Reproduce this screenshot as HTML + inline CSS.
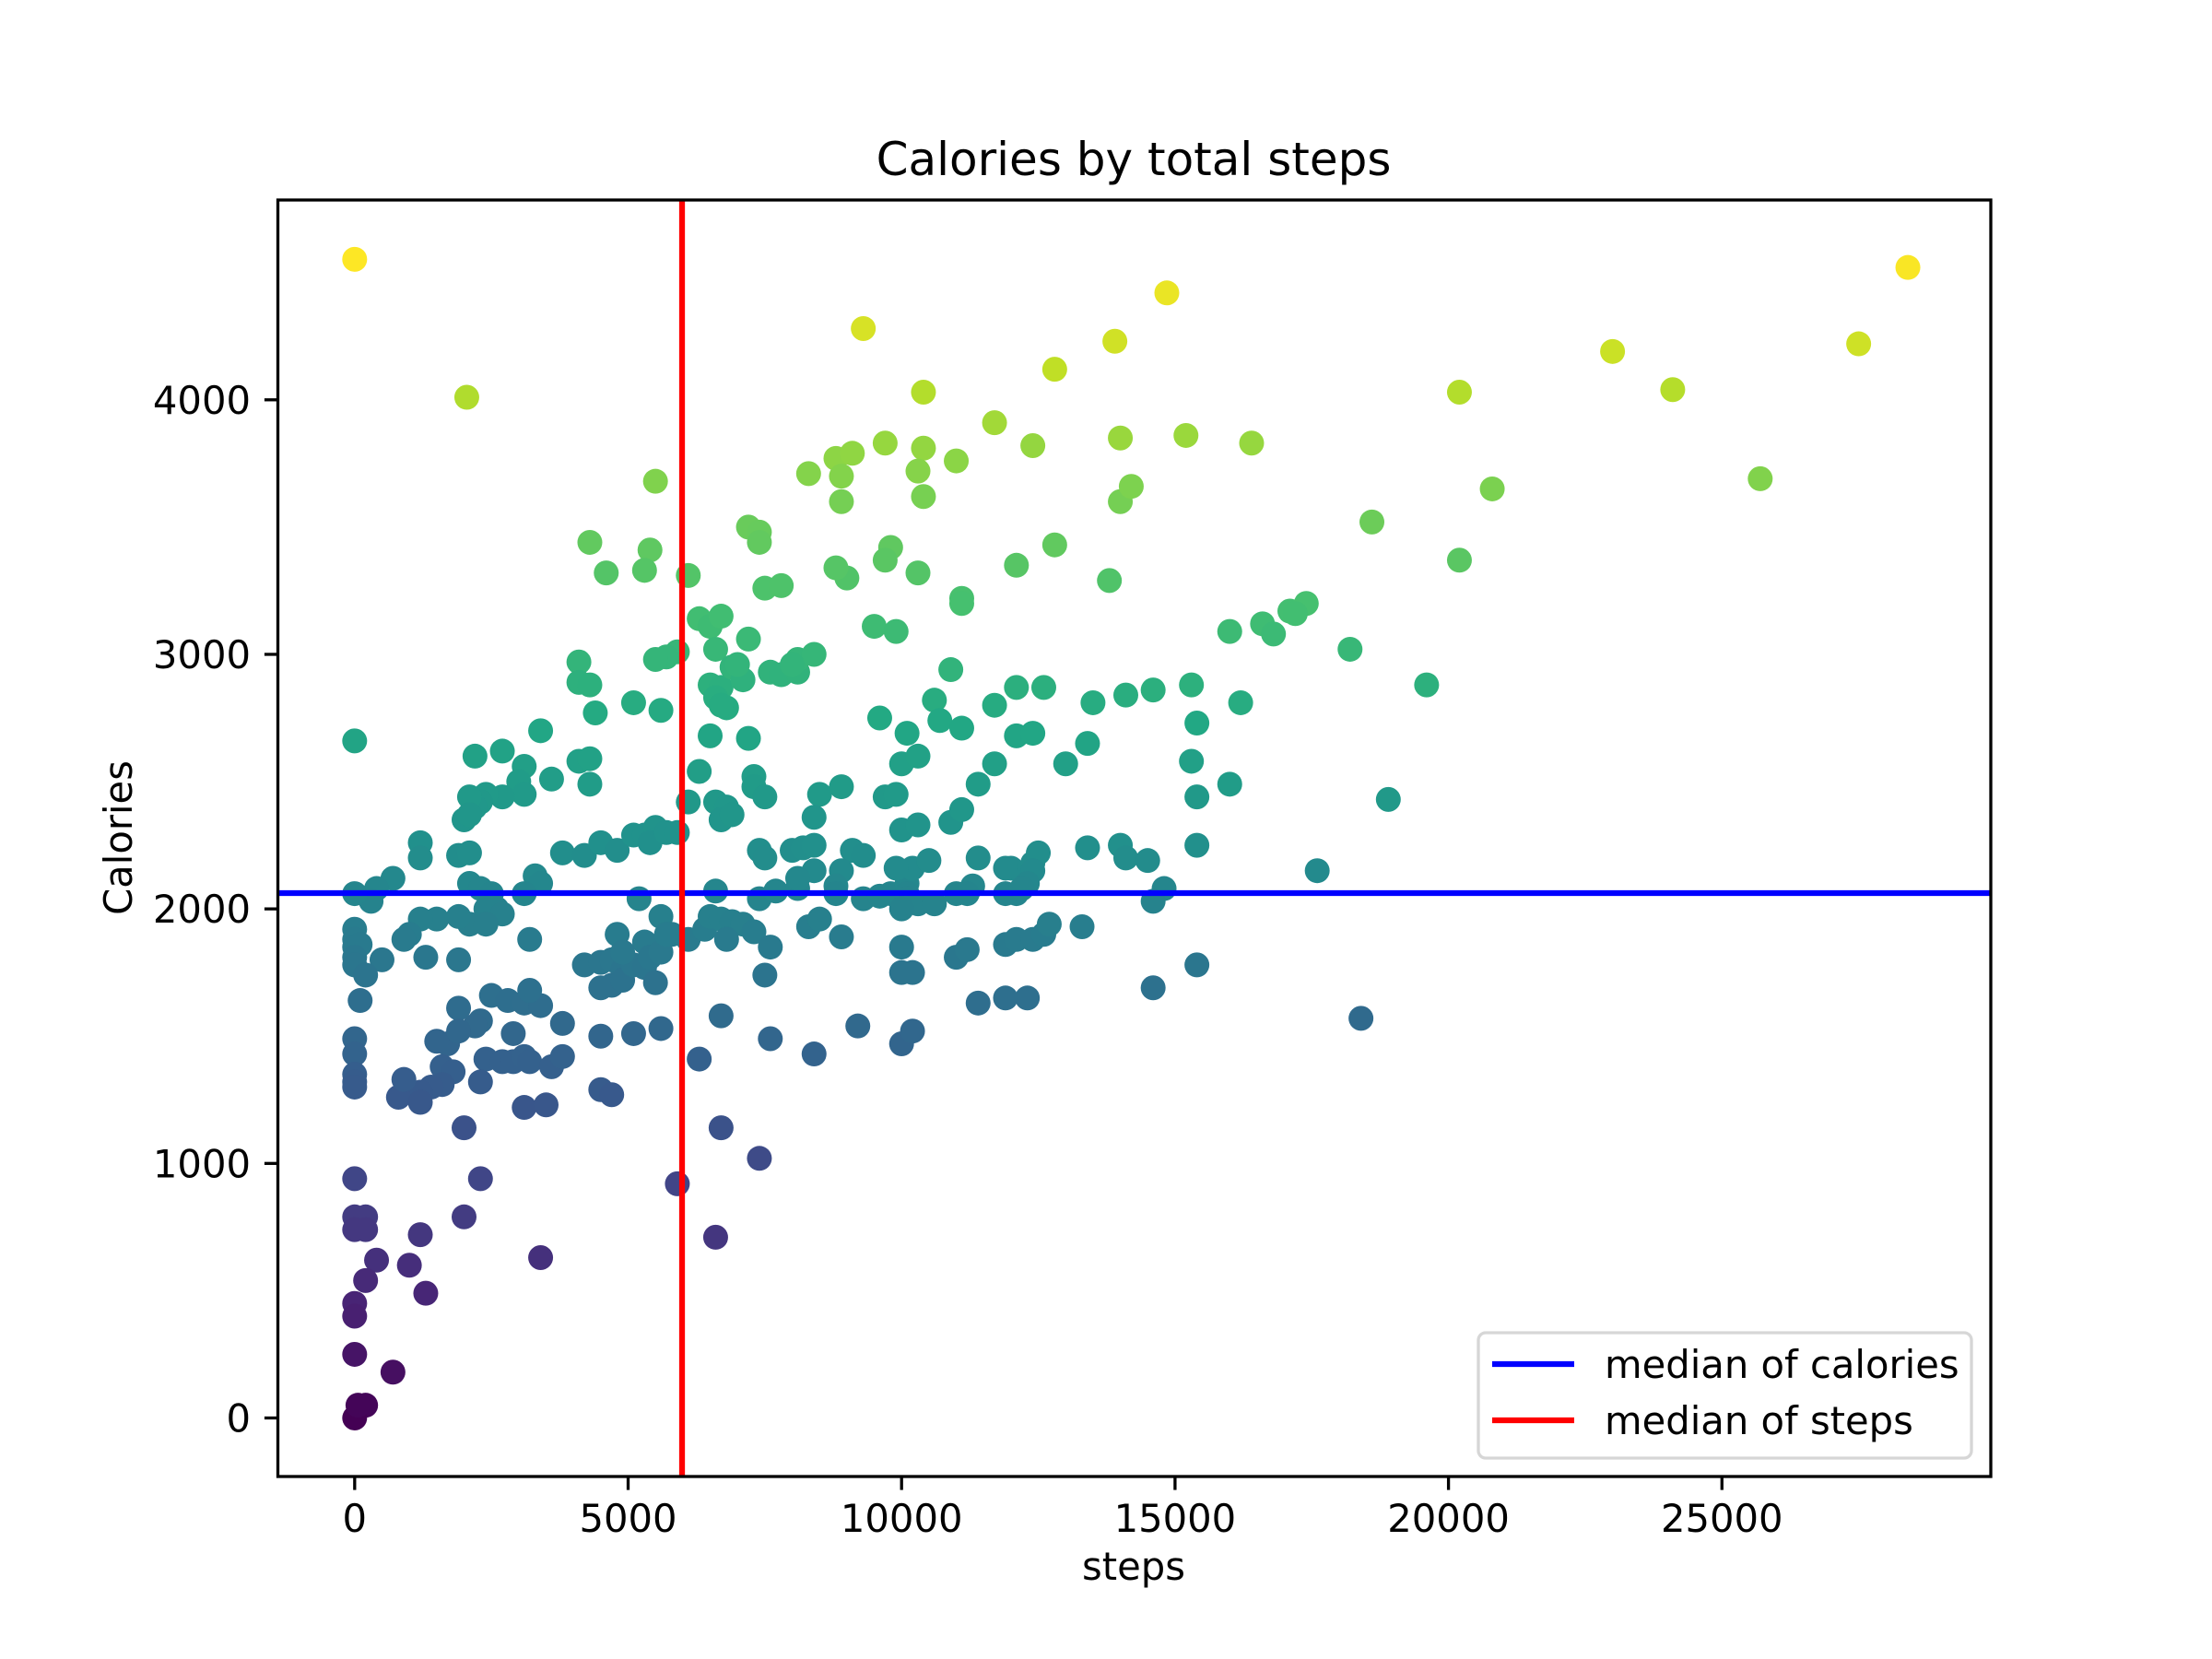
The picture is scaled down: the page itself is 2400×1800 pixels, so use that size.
<!DOCTYPE html>
<html><head><meta charset="utf-8"><style>
html,body{margin:0;padding:0;background:#fff;}
svg{display:block;font-family:"DejaVu Sans","Liberation Sans",sans-serif;}
</style></head><body>
<svg id="chart" width="2400" height="1800" viewBox="0 0 2400 1800" xmlns="http://www.w3.org/2000/svg">
<rect width="2400" height="1800" fill="#fff"/>
<text x="1230" y="190" font-size="50" text-anchor="middle">Calories by total steps</text>
<g id="plot"></g>
<g id="axes"></g>
</svg>
<script>
const steps = [0,2050,9300,14850,13900,12800,10400,11700,8800,9100,9700,10400,12400,11000,10300,8300,8900,8900,10400,14000,15200,16400,14000,14200,20200,23000,24100,27500,28400,25700,20800,18600,20200,5500,4300,5400,4600,5300,6100,7200,7400,7400,9000,9800,9700,8800,10300,12800,12100,11100,11100,13800,7500,7800,9500,9900,6300,6500,6700,7200,6600,5900,5700,5500,4100,4100,4300,4400,5100,5600,6500,6700,6600,6800,6700,6900,7100,7000,7600,7800,8100,8100,8400,10900,10600,10700,11100,11700,12100,12600,12100,12400,13500,14100,14600,15300,15400,16200,16000,16600,16800,17100,17400,18200,19600,17200,
0,2200,2700,3400,4100,4300,4300,3600,3100,3000,3100,2700,2400,2300,2200,2100,2000,2100,1900,2100,1200,1200,700,400,300,0,2100,2300,2500,2400,2600,2700,2100,2400,1900,1500,1200,1000,900,1300,1900,500,0,0,0,100,0,0,200,100,3300,3400,3100,3800,4200,4500,4800,5100,5300,5500,5400,5700,5900,6300,6600,6800,6700,6900,6100,6500,7200,7300,7300,7500,7400,7500,8000,8200,8400,8500,8400,8900,9100,9300,8900,8400,7400,7700,8100,8100,8800,8800,9300,9600,9800,10100,10100,10100,10300,10000,10600,10200,9900,10100,10000,10300,10500,9700,9900,10000,10300,10900,11100,11400,11700,9600,11400,12000,12400,12500,12400,12300,12100,11900,11300,11200,11000,11900,12200,14000,14100,14500,13400,13000,13400,14800,14600,15400,15300,15400,16000,17600,18900,8000,
5200,4800,5300,5600,5800,6100,6400,6600,6500,6700,6900,7100,7300,6800,7600,8300,8500,8900,10000,10000,10200,11000,11200,11400,11900,12300,11900,12100,12400,12600,12700,13300,14600,15400,18400,4200,4500,4700,4900,4700,4500,4900,5100,5300,5400,5500,5600,5700,4900,3200,2500,2800,3100,3400,3200,3800,2900,2300,1900,2200,1700,1500,1900,2400,2700,2900,3100,3200,3600,3800,5100,5600,4500,6700,6300,7600,7500,8400,9200,10000,10200,1600,1800,1600,1400,1200,800,900,1200,2300,3100,3500,4500,4700,0,0,0,0,0,2000,6700,7400,2300,0,5900,0,200,0,200,2000,1200,6600,400,1000,3400,200,1300,0,0,0,700,200,0,60];
const calories = [4552,4010,4280,4420,4230,4120,4030,3910,3770,3790,3830,3810,3820,3760,3720,3710,3700,3600,3620,3850,3860,3830,3600,3660,4030,4190,4040,4220,4520,3690,3650,3520,3370,3680,3440,3410,3320,3330,3310,3500,3480,3440,3300,3420,3370,3340,3320,3430,3350,3220,3200,3290,3260,3270,3110,3090,3140,3110,3150,3060,3020,3010,2990,2980,2970,2890,2880,2770,2810,2780,2880,2870,2830,2790,2800,2950,2900,2960,2930,2920,2930,2980,3000,2940,2820,2740,2710,2800,2870,2870,2680,2690,2810,2840,2860,2880,2730,2810,3090,3120,3080,3170,3200,3020,2880,3160,
2660,2600,2620,2700,2580,2590,2490,2510,2560,2500,2450,2440,2450,2420,2400,2440,2350,2370,2210,2220,2260,2200,2120,2080,2030,2060,2100,2080,2060,2000,2000,1980,1940,1940,1970,1960,1960,1900,1880,1810,1800,1800,1920,1880,1850,1860,1810,1780,1740,1640,2130,2100,2060,2220,2210,2260,2230,2290,2290,2320,2260,2300,2300,2540,2420,2400,2350,2370,2420,2680,2670,2520,2480,2440,2230,2200,2230,2240,2250,2450,2360,2480,2230,2210,2150,2150,2040,2070,2080,2120,2090,2060,2040,2050,2060,2100,2060,2040,2020,2000,2020,2160,2160,2690,2570,2600,2190,2440,2450,2310,2330,2340,2390,2490,2570,2750,2200,2160,2180,2220,2150,2100,2060,2060,2090,2060,2060,2160,2080,2250,2200,2190,2240,2570,2650,2080,2030,2440,2580,2250,2490,2150,2430,2960,
2040,1900,1870,1970,1900,1880,1920,2070,1970,1960,1950,1940,1910,1880,1850,1930,1960,1890,1850,1750,1750,1810,1840,1630,1650,1650,1860,1880,1880,1900,1940,1930,1690,1780,1570,1780,1790,1800,1760,1700,1690,1720,1780,1770,1810,1710,1830,1900,1830,1880,1660,1640,1630,1620,1680,1550,1510,1560,1610,1540,1470,1480,1520,1410,1400,1400,1420,1400,1380,1420,1510,1530,1500,1580,1410,1490,1740,1430,1540,1470,1520,1380,1360,1310,1300,1280,1260,1330,1240,1320,1220,1230,1290,1270,1490,1430,1350,1320,1300,1140,1140,1020,940,940,920,790,790,740,740,790,720,710,620,600,630,540,490,450,400,250,180,50,0,50];
const xTicks = [0,5000,10000,15000,20000,25000];
const yTicks = [0,1000,2000,3000,4000];
const medianSteps = [5986];
const medianCalories = [2062];

const X0=301.5, X1=2160, Y0=217, Y1=1602;
const xMin=-1404, xMax=29916, yMin=-230, yMax=4785;
function xs(v){return X0+(v-xMin)/(xMax-xMin)*(X1-X0);}
function ys(v){return Y1-(v-yMin)/(yMax-yMin)*(Y1-Y0);}
const NS="http://www.w3.org/2000/svg";
const vir=[[68,1,84],[72,36,117],[65,68,135],[53,95,141],[42,120,142],[33,145,140],[34,168,132],[68,191,112],[122,209,81],[189,223,38],[253,231,37]];
function viridis(t){t=Math.max(0,Math.min(1,t));const p=t*10,i=Math.min(9,Math.floor(p)),f=p-i;const a=vir[i],b=vir[i+1];return `rgb(${a.map((c,k)=>Math.round(c+(b[k]-c)*f)).join(',')})`;}
function mk(tag,attrs,parent){const e=document.createElementNS(NS,tag);for(const k in attrs)e.setAttribute(k,attrs[k]);parent.appendChild(e);return e;}
const plot=document.getElementById('plot'), axes=document.getElementById('axes');
const cmax=Math.max(...calories);
for(let i=0;i<steps.length;i++){
  const c=mk('circle',{cx:xs(steps[i]),cy:ys(calories[i]),r:13.5,fill:viridis(calories[i]/cmax)},plot);
  
  
}
const hl=mk('line',{x1:X0,x2:X1,y1:ys(medianCalories[0]),y2:ys(medianCalories[0]),stroke:'#0000ff','stroke-width':6.25},plot);


const vl=mk('line',{x1:xs(medianSteps[0]),x2:xs(medianSteps[0]),y1:Y0,y2:Y1,stroke:'#ff0000','stroke-width':6.25},plot);


const frame=mk('rect',{x:X0,y:Y0,width:X1-X0,height:Y1-Y0,fill:'none',stroke:'#000','stroke-width':3.3},axes);


xTicks.forEach(v=>{
  const t=mk('line',{x1:xs(v),x2:xs(v),y1:Y1,y2:Y1+14.6,stroke:'#000','stroke-width':3.3},axes);
  
  
  const l=mk('text',{x:xs(v),y:1662,'font-size':41.7,'text-anchor':'middle'},axes);l.textContent=v;
  
  
});
yTicks.forEach(v=>{
  const t=mk('line',{x1:X0-14.6,x2:X0,y1:ys(v),y2:ys(v),stroke:'#000','stroke-width':3.3},axes);
  
  
  const l=mk('text',{x:272,y:ys(v)+15,'font-size':41.7,'text-anchor':'end'},axes);l.textContent=v;
  
  
});
const xt=mk('text',{x:1230,y:1714,'font-size':41.7,'text-anchor':'middle'},axes);xt.textContent='steps';


const yt=mk('text',{x:0,y:0,'font-size':41.7,'text-anchor':'middle',transform:'translate(143,909) rotate(-90)'},axes);yt.textContent='Calories';


const lg=mk('g',{},axes);


mk('rect',{x:1604,y:1446,width:535,height:136,rx:8,fill:'#fff','fill-opacity':0.8,stroke:'#d6d6d6','stroke-width':3.3},lg);
const entries=[['median of calories','#0000ff',1480],['median of steps','#ff0000',1541]];
entries.forEach(e=>{
  const g=mk('g',{},lg);
  
  
  mk('line',{x1:1619,x2:1708,y1:e[2],y2:e[2],stroke:e[1],'stroke-width':6.25},g);
  const t=mk('text',{x:1741,y:e[2]+15,'font-size':41.7},g);t.textContent=e[0];
});
</script>
</body></html>
